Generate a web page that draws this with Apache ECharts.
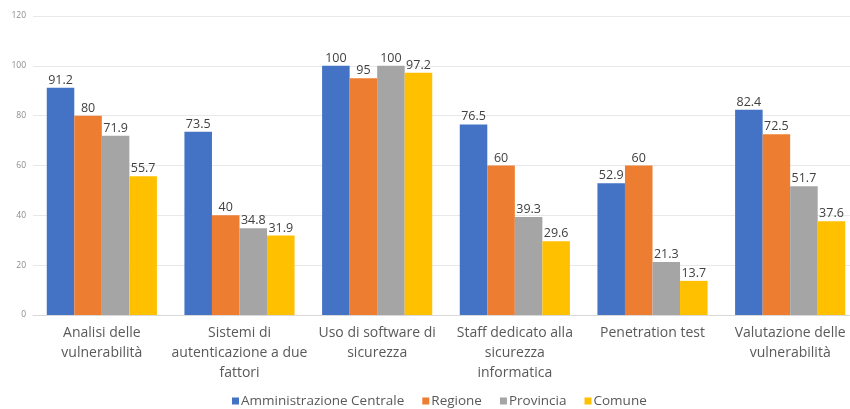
<!DOCTYPE html>
<html><head><meta charset="utf-8">
<script src="https://cdn.jsdelivr.net/npm/echarts@6/dist/echarts.min.js"></script>
<style>html,body{margin:0;padding:0;background:#fff}#c{width:850px;height:409px}</style>
</head><body><div id="c"></div>
<script>
var categories = ["Analisi delle\nvulnerabilità", "Sistemi di\nautenticazione a due\nfattori", "Uso di software di\nsicurezza", "Staff dedicato alla\nsicurezza\ninformatica", "Penetration test", "Valutazione delle\nvulnerabilità"];
var seriesNames = ["Amministrazione Centrale", "Regione", "Provincia", "Comune"];
var amministrazione = [91.2, 73.5, 100, 76.5, 52.9, 82.4];
var regione = [80, 40, 95, 60, 60, 72.5];
var provincia = [71.9, 34.8, 100, 39.3, 21.3, 51.7];
var comune = [55.7, 31.9, 97.2, 29.6, 13.7, 37.6];
var colors = ["#4472C4", "#ED7D31", "#A5A5A5", "#FFC000"];
var values = [amministrazione, regione, provincia, comune];
var font = "Open Sans";
var chart = echarts.init(document.getElementById('c'));
chart.setOption({
  animation: false,
  textStyle: {fontFamily: font},
  grid: {left: 33, width: 826, top: 16, height: 299, containLabel: false, outerBoundsMode: 'none'},
  legend: {
    top: 393, left: 232, padding: 0, itemWidth: 7, itemHeight: 7, itemGap: 18,
    icon: 'rect',
    textStyle: {fontFamily: font, fontSize: 13.5, lineHeight: 16, color: '#595959', padding: [0,0,0,-3]},
    data: seriesNames
  },
  xAxis: {
    type: 'category', data: categories,
    axisLine: {lineStyle: {color: '#D9D9D9'}},
    axisTick: {show: false},
    axisLabel: {interval: 0, fontFamily: font, fontSize: 14, color: '#595959', lineHeight: 20, margin: 8}
  },
  yAxis: {
    type: 'value', min: 0, max: 120, interval: 20,
    axisLine: {show: false}, axisTick: {show: false},
    splitLine: {lineStyle: {color: '#E8E8E8'}},
    axisLabel: {fontFamily: font, fontSize: 8.5, color: '#8C8C8C', margin: 7}
  },
  series: seriesNames.map(function (n, i) {
    return {
      name: n, type: 'bar', data: values[i],
      barGap: '0%', barCategoryGap: '20%',
      itemStyle: {color: colors[i]},
      label: {show: true, position: 'top', distance: 1, fontFamily: font, fontSize: 12.5, color: '#404040'}
    };
  })
});
</script></body></html>
